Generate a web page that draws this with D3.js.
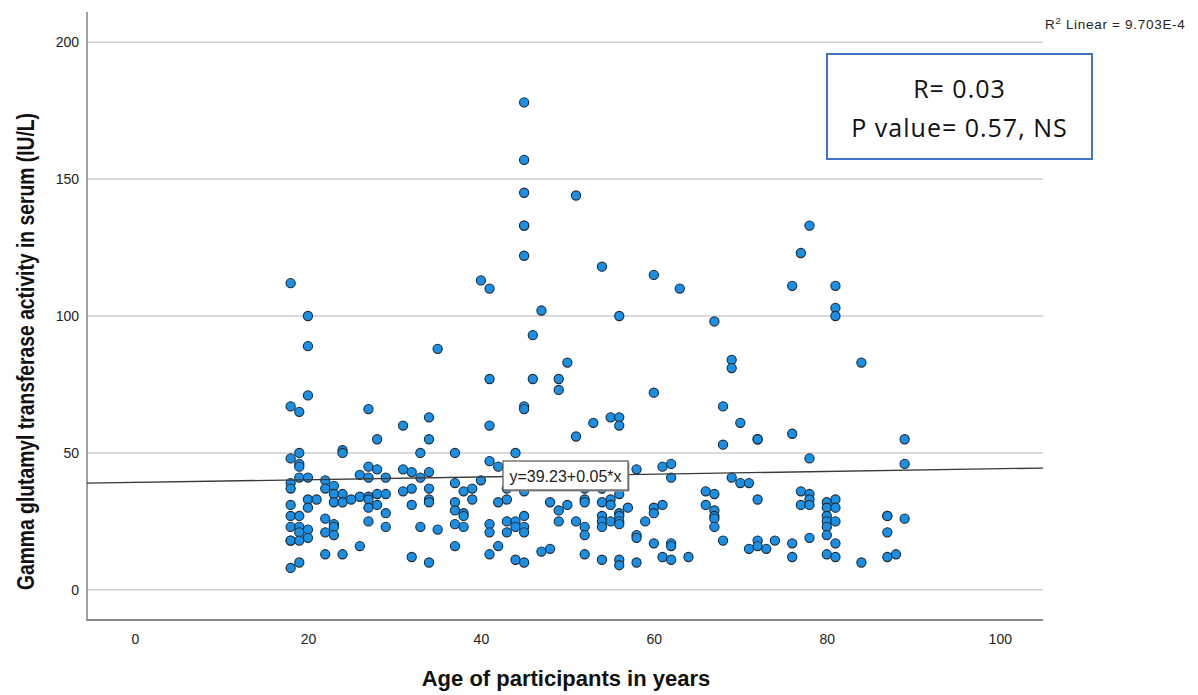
<!DOCTYPE html>
<html>
<head>
<meta charset="utf-8">
<script src="https://cdn.jsdelivr.net/npm/d3@7"></script>
<style>
  html, body { margin: 0; padding: 0; background: #ffffff; }
  svg { display: block; }
</style>
</head>
<body>
<svg id="chart" width="1198" height="695"></svg>
<script>
// Age (years) and serum GGT activity (IU/L) of each participant, paired by index.
const ages = [
  18,18,18,18,18,18,18,18,18,18,18,
  19,19,19,19,19,19,19,19,19,19,
  20,20,20,20,20,20,20,20,
  21,
  22,22,22,22,22,
  23,23,23,23,23,23,
  24,24,24,24,24,
  25,
  26,26,26,
  27,27,27,27,27,27,27,
  28,28,28,28,
  29,29,29,29,
  31,31,31,
  32,32,32,32,
  33,33,33,
  34,34,34,34,34,34,34,
  35,35,
  37,37,37,37,37,37,
  38,38,38,38,
  39,39,
  40,40,
  41,41,41,41,41,41,41,
  42,42,42,
  43,43,43,43,
  44,44,44,44,
  45,45,45,45,45,45,45,45,45,45,45,45,45,
  46,46,
  47,47,
  48,48,
  49,49,49,49,
  50,50,
  51,51,51,
  52,52,52,52,52,52,
  53,
  54,54,54,54,54,54,54,
  55,55,55,55,
  56,56,56,56,56,56,56,56,56,56,
  57,
  58,58,58,58,
  59,
  60,60,60,60,60,
  61,61,61,
  62,62,62,62,62,
  63,
  64,
  66,66,
  67,67,67,67,67,67,
  68,68,68,
  69,69,69,
  70,70,
  71,71,
  72,72,72,72,72,
  73,
  74,
  76,76,76,76,
  77,77,77,
  78,78,78,78,78,78,
  80,80,80,80,80,80,80,
  81,81,81,81,81,81,81,81,
  84,84,
  87,87,87,87,
  88,
  89,89,89
];
const ggt = [
  112,67,48,39,37,31,27,23,18,18,8,
  65,50,46,45,41,27,23,21,18,10,
  100,89,71,41,33,30,22,19,
  33,
  40,37,26,21,13,
  38,35,32,24,23,20,
  51,50,35,32,13,
  33,
  42,34,16,
  66,45,41,34,33,30,25,
  55,44,35,31,
  41,35,28,23,
  60,44,36,
  43,37,31,12,
  50,41,23,
  63,55,43,37,33,32,10,
  88,22,
  50,39,32,29,24,16,
  36,28,27,23,
  37,33,
  113,40,
  110,77,60,47,24,21,13,
  45,32,16,
  37,33,25,21,
  50,25,23,11,
  178,157,145,133,133,122,67,66,36,27,23,21,10,
  93,77,
  102,14,
  32,15,
  77,73,29,25,
  83,31,
  144,56,25,
  37,33,32,23,20,13,
  61,
  118,37,32,27,25,23,11,
  63,33,31,25,
  100,63,60,35,28,27,25,24,11,9,
  30,
  44,20,19,10,
  25,
  115,72,30,28,17,
  45,31,12,
  46,41,17,16,11,
  110,
  12,
  36,31,
  98,35,29,27,26,23,
  67,53,18,
  84,81,41,
  61,39,
  39,15,
  55,55,33,18,16,
  15,
  18,
  111,57,17,12,
  123,36,31,
  133,48,35,33,31,19,
  32,30,27,25,23,20,13,
  111,103,100,33,30,25,17,12,
  83,10,
  27,27,21,12,
  13,
  55,46,26
];

// Tick values of both axes
const xTicks = [0, 20, 40, 60, 80, 100];
const yTicks = [0, 50, 100, 150, 200];

// Linear fit reported for the data
const fitIntercept = 39.23;
const fitSlope = 0.05;
const fitLabel = "y=39.23+0.05*x";
const r2Label = "9.703E-4";
const statLines = ["R= 0.03", "P value= 0.57, NS"];

const xTitle = "Age of participants in years";
const yTitle = "Gamma glutamyl transferase activity in serum (IU/L)";

const svg = d3.select("#chart");

const plot = { left: 87, right: 1043, top: 12, bottom: 620 };

const x = d3.scaleLinear().domain([-5.55, 105]).range([plot.left, plot.right]);
const y = d3.scaleLinear().domain([-11, 211]).range([plot.bottom, plot.top]);

// Horizontal grid lines
svg.append("g")
  .selectAll("line")
  .data(yTicks)
  .join("line")
  .attr("x1", plot.left)
  .attr("x2", plot.right)
  .attr("y1", d => y(d))
  .attr("y2", d => y(d))
  .attr("stroke", "#cfcfcf")
  .attr("stroke-width", 1.5);

// Y axis
const yAxis = svg.append("g")
  .attr("transform", `translate(${plot.left},0)`)
  .call(d3.axisLeft(y).tickValues(yTicks).tickSize(0).tickPadding(8));
yAxis.select(".domain").remove();
yAxis.selectAll("text")
  .attr("font-family", "'Liberation Sans', Arial, sans-serif")
  .attr("font-size", 14)
  .attr("fill", "#222");

// X axis
const xAxis = svg.append("g")
  .attr("transform", `translate(0,${plot.bottom})`)
  .call(d3.axisBottom(x).tickValues(xTicks).tickSize(0).tickPadding(14));
xAxis.select(".domain").remove();
xAxis.selectAll("text")
  .attr("font-family", "'Liberation Sans', Arial, sans-serif")
  .attr("font-size", 14)
  .attr("fill", "#222");

// Axis lines
svg.append("line")
  .attr("x1", plot.left).attr("x2", plot.left)
  .attr("y1", plot.top).attr("y2", plot.bottom + 1)
  .attr("stroke", "#a0a0a0").attr("stroke-width", 2);
svg.append("line")
  .attr("x1", plot.left).attr("x2", plot.right)
  .attr("y1", plot.bottom).attr("y2", plot.bottom)
  .attr("stroke", "#8a8a8a").attr("stroke-width", 2);

// Scatter points
const points = ages.map((a, i) => ({ age: a, val: ggt[i] }));
svg.append("g")
  .selectAll("circle")
  .data(points)
  .join("circle")
  .attr("cx", d => x(d.age))
  .attr("cy", d => y(d.val))
  .attr("r", 4.6)
  .attr("fill", "#1a8fe6")
  .attr("stroke", "#1b2a36")
  .attr("stroke-width", 1.1);

// Fit line across the full x range
const [x0, x1] = x.domain();
svg.append("line")
  .attr("x1", x(x0)).attr("y1", y(fitIntercept + fitSlope * x0))
  .attr("x2", x(x1)).attr("y2", y(fitIntercept + fitSlope * x1))
  .attr("stroke", "#3a3a3a")
  .attr("stroke-width", 1.3);

// Equation label box on the fit line
const eq = svg.append("g").attr("transform", "translate(503,461)");
eq.append("rect")
  .attr("x", 1.5).attr("y", 1.5).attr("width", 125).attr("height", 29)
  .attr("fill", "#9a9a9a");
eq.append("rect")
  .attr("width", 125).attr("height", 29)
  .attr("fill", "#ffffff")
  .attr("stroke", "#555").attr("stroke-width", 1.2);
eq.append("text")
  .attr("x", 62.5).attr("y", 21)
  .attr("text-anchor", "middle")
  .attr("font-family", "'Liberation Sans', Arial, sans-serif")
  .attr("font-size", 16)
  .attr("fill", "#222")
  .text(fitLabel);

// R-squared annotation
const r2 = svg.append("text")
  .attr("x", 1045).attr("y", 29)
  .attr("font-family", "'Liberation Sans', Arial, sans-serif")
  .attr("font-size", 13.5)
  .attr("letter-spacing", 0.7)
  .attr("fill", "#222");
r2.append("tspan").text("R");
r2.append("tspan").attr("font-size", 9.5).attr("dy", -5).text("2");
r2.append("tspan").attr("dy", 5).text(" Linear = " + r2Label);

// Statistics box
const stat = svg.append("g");
stat.append("rect")
  .attr("x", 827).attr("y", 54).attr("width", 265).attr("height", 105)
  .attr("fill", "#ffffff")
  .attr("stroke", "#4472c4").attr("stroke-width", 2);
stat.selectAll("text")
  .data(statLines)
  .join("text")
  .attr("x", 959.5)
  .attr("y", (d, i) => 98 + i * 38.5)
  .attr("text-anchor", "middle")
  .attr("font-family", "'Open Sans', 'Noto Sans', sans-serif")
  .attr("font-size", 25)
  .attr("letter-spacing", 1)
  .attr("fill", "#111")
  .text(d => d);

// Axis titles
svg.append("text")
  .attr("x", 566).attr("y", 686)
  .attr("text-anchor", "middle")
  .attr("font-family", "'Liberation Sans', Arial, sans-serif")
  .attr("font-weight", "bold")
  .attr("font-size", 22)
  .attr("fill", "#111")
  .text(xTitle);

// Narrow, tall lettering for the vertical title
svg.append("text")
  .attr("transform", "translate(34,351.5) rotate(-90) scale(1,1.22)")
  .attr("text-anchor", "middle")
  .attr("font-family", "'Liberation Sans', Arial, sans-serif")
  .attr("font-weight", "bold")
  .attr("font-size", 19.3)
  .attr("fill", "#111")
  .text(yTitle);
</script>
</body>
</html>
